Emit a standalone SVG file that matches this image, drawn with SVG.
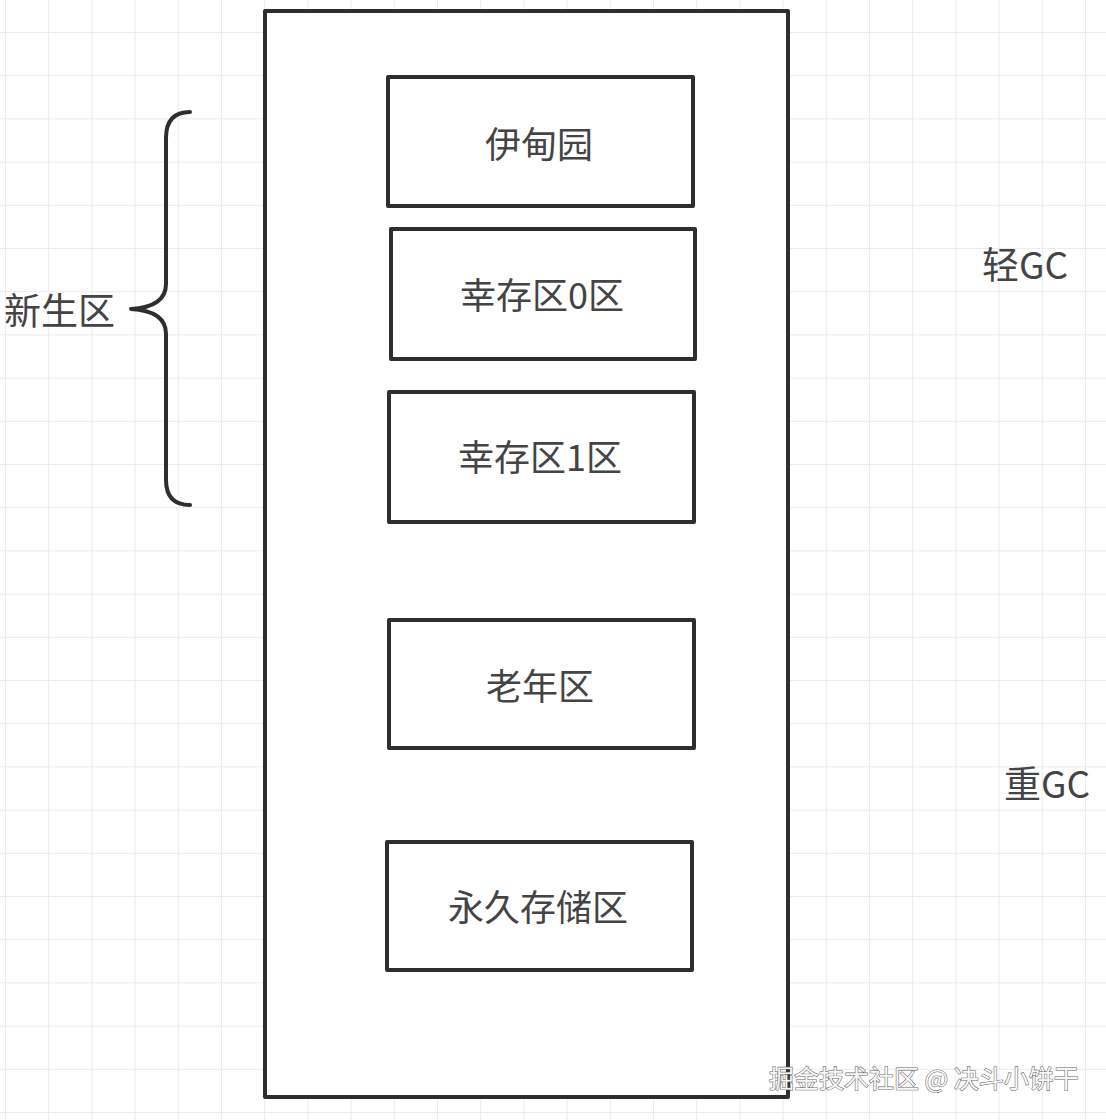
<svg xmlns="http://www.w3.org/2000/svg" width="1106" height="1120" viewBox="0 0 1106 1120">
  <defs>
    <pattern id="grid" patternUnits="userSpaceOnUse" x="5" y="32" width="43.2" height="43.2">
      <path d="M0,0 H43.2 M0,0 V43.2" fill="none" stroke="#ebebeb" stroke-width="2"/>
    </pattern>
    <style>
      .box { fill: #ffffff; stroke: #2e2e2e; stroke-width: 4; stroke-linejoin: round; }
      .lbl { font-family: "Noto Sans CJK SC", "Noto Sans", sans-serif; font-size: 36px; fill: #444444; text-anchor: middle; dominant-baseline: central; }
      .side { font-family: "Noto Sans CJK SC", "Noto Sans", sans-serif; font-size: 37px; fill: #444444; dominant-baseline: central; }
      .brace { fill: none; stroke: #2e2e2e; stroke-width: 4; stroke-linecap: round; stroke-linejoin: round; }
    </style>
  </defs>
  <rect x="0" y="0" width="1106" height="1120" fill="#ffffff"/>
  <rect x="0" y="0" width="1106" height="1120" fill="url(#grid)"/>

  <g id="heap">
    <rect class="box" x="265" y="11" width="523" height="1086"/>
  </g>

  <g id="eden">
    <rect class="box" x="388" y="77" width="305" height="129"/>
    <text class="lbl" x="539" y="142">伊甸园</text>
  </g>
  <g id="survivor0">
    <rect class="box" x="391" y="229" width="304" height="130"/>
    <text class="lbl" x="542" y="293">幸存区0区</text>
  </g>
  <g id="survivor1">
    <rect class="box" x="389" y="392" width="305" height="130"/>
    <text class="lbl" x="540" y="455">幸存区1区</text>
  </g>
  <g id="old">
    <rect class="box" x="389" y="620" width="305" height="128"/>
    <text class="lbl" x="540" y="684">老年区</text>
  </g>
  <g id="perm">
    <rect class="box" x="387" y="842" width="305" height="128"/>
    <text class="lbl" x="538" y="905">永久存储区</text>
  </g>

  <g id="connectors">
    <path class="brace" d="M190,112 Q166,112 166,138 L166,284 Q166,307 131,309 Q166,311 166,334 L166,480 Q166,505 190,505"/>
  </g>

  <g id="young-label">
    <text class="side" x="4" y="309">新生区</text>
  </g>
  <g id="minor-gc">
    <text class="side" x="982" y="263">轻GC</text>
  </g>
  <g id="major-gc">
    <text class="side" x="1004" y="782">重GC</text>
  </g>

  <g id="watermark">
    <text x="769" y="1077" font-family="Noto Sans CJK SC, sans-serif" font-size="25" fill="#f8f8f8" stroke="#666666" stroke-width="1.1" paint-order="stroke" dominant-baseline="central">掘金技术社区 @ 决斗小饼干</text>
  </g>
</svg>
